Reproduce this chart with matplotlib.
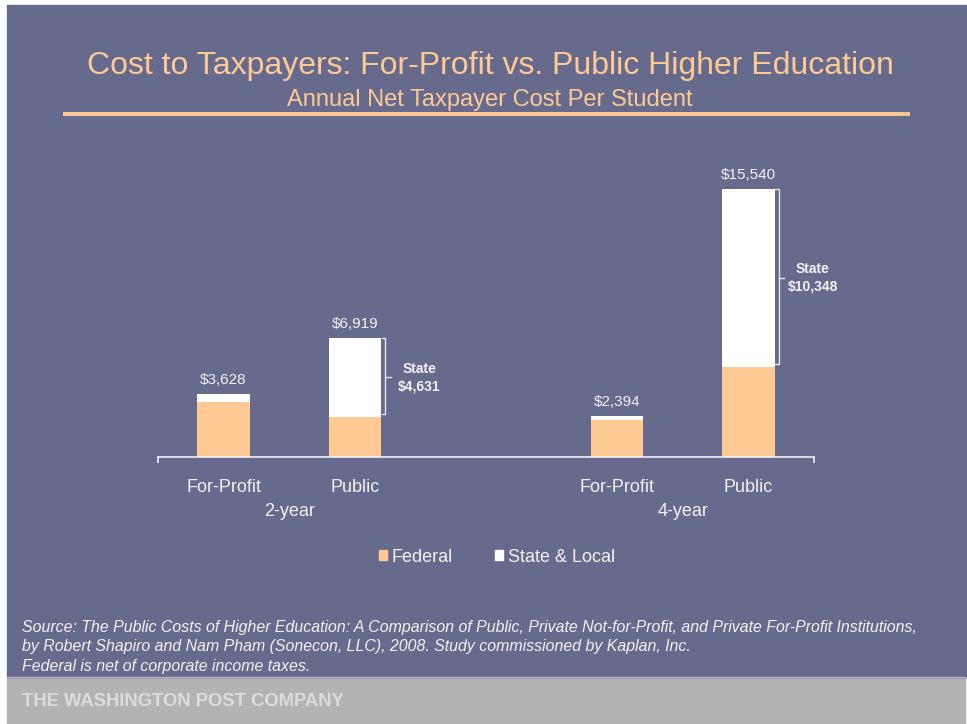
import matplotlib
matplotlib.use("Agg")
import matplotlib.pyplot as plt
from matplotlib.patches import Rectangle, Patch

plt.rcParams["font.family"] = ["Liberation Sans", "DejaVu Sans"]

# data
groups = ["2-year", "4-year"]
categories = ["For-Profit", "Public", "For-Profit", "Public"]
federal = [3200, 2288, 2130, 5192]
state_local = [428, 4631, 264, 10348]
totals = [3628, 6919, 2394, 15540]
positions = [0, 1, 3, 4]

W, H = 967, 724
BG = "#666B8E"
ORANGE = "#FFC993"
LIGHT = "#F2F2F2"


def fx(px):
    return px / W


def fy(py):
    return 1 - py / H


fig = plt.figure(figsize=(W / 100, H / 100), dpi=100)
fig.patch.set_facecolor("white")

# slate panel and grey footer band
fig.patches.append(Rectangle((fx(7), fy(677)), fx(960), (677 - 5) / H,
                             transform=fig.transFigure, color=BG, zorder=-10))
fig.patches.append(Rectangle((fx(7), 0), fx(958), 47 / H,
                             transform=fig.transFigure, color="#B3B3B3", zorder=-10))
fig.add_artist(plt.Line2D([fx(7), fx(965)], [fy(677.5), fy(677.5)],
                          transform=fig.transFigure, color="#9A9CB0", lw=0.8, zorder=-5))

# titles
fig.text(fx(490.5), fy(74), "Cost to Taxpayers: For-Profit vs. Public Higher Education",
         ha="center", va="baseline", fontsize=23, color=ORANGE)
fig.text(fx(490), fy(106), "Annual Net Taxpayer Cost Per Student",
         ha="center", va="baseline", fontsize=17, color=ORANGE)
fig.add_artist(plt.Line2D([fx(63), fx(910)], [fy(114), fy(114)],
                          transform=fig.transFigure, color=ORANGE, lw=2.8,
                          solid_capstyle="butt"))

# chart axes
ax = fig.add_axes([fx(158), fy(457), 656 / W, 293.6 / H])
ax.set_facecolor("none")
ax.set_xlim(-0.5, 4.5)
ax.set_ylim(0, 17000)
for s in ["top", "left", "right"]:
    ax.spines[s].set_visible(False)
ax.spines["bottom"].set_color(LIGHT)
ax.spines["bottom"].set_linewidth(1.2)
ax.set_yticks([])
ax.set_xticks([-0.5, 4.5])
ax.set_xticklabels([])
ax.tick_params(axis="x", direction="out", length=4, width=1.2, color=LIGHT)

ax.bar(positions, federal, width=0.4, color=ORANGE, zorder=2)
ax.bar(positions, state_local, width=0.4, bottom=federal, color="white", zorder=2)

for p, t in zip(positions, totals):
    ax.annotate(f"${t:,}", xy=(p, t), xytext=(0, 7.2), textcoords="offset points",
                ha="center", va="baseline", fontsize=11, color=LIGHT)

for p, c in zip(positions, categories):
    ax.annotate(c, xy=(p, 0), xycoords=("data", "axes fraction"), xytext=(0, -25.2),
                textcoords="offset points", ha="center", va="baseline",
                fontsize=13, color=LIGHT, annotation_clip=False)

for i, g in enumerate(groups):
    gx = (positions[2 * i] + positions[2 * i + 1]) / 2
    ax.annotate(g, xy=(gx, 0), xycoords=("data", "axes fraction"), xytext=(0, -42.5),
                textcoords="offset points", ha="center", va="baseline",
                fontsize=13, color=LIGHT, annotation_clip=False)

# brackets for the state share on public bars
for i in [1, 3]:
    p = positions[i]
    top = totals[i]
    bot = federal[i] + 200
    mid = (top + federal[i]) / 2
    x0 = p + 0.2 + 0.005
    xb = p + 0.2 + 0.03
    xt = xb + 0.045
    ax.plot([x0, xb, xb, x0], [top, top, bot, bot], color="#E6E6E6", lw=1,
            clip_on=False, zorder=3)
    ax.plot([xb, xt], [mid, mid], color="#E6E6E6", lw=1, clip_on=False, zorder=3)
    ax.text(p + 0.49, mid, f"State\n${state_local[i]:,}", ha="center", va="center",
            fontsize=10, fontweight="bold", color=LIGHT, linespacing=1.3)

# legend
handles = [Patch(color=ORANGE, label="Federal"), Patch(color="white", label="State & Local")]
leg = fig.legend(handles=handles, loc="center", bbox_to_anchor=(fx(497), fy(557)),
                 bbox_transform=fig.transFigure, ncol=2, frameon=False, fontsize=13,
                 handlelength=0.45, handleheight=0.45, handletextpad=0.28,
                 columnspacing=2.33, borderpad=0)
for t in leg.get_texts():
    t.set_color(LIGHT)

# source notes
notes = [
    "Source: The Public Costs of Higher Education: A Comparison of Public, Private Not-for-Profit, and Private For-Profit Institutions,",
    "by Robert Shapiro and Nam Pham (Sonecon, LLC), 2008. Study commissioned by Kaplan, Inc.",
    "Federal is net of corporate income taxes.",
]
for k, line in enumerate(notes):
    fig.text(fx(22), fy(632 + 19.5 * k), line, ha="left", va="baseline",
             fontsize=11.4, style="italic", color=LIGHT)

fig.text(fx(22), fy(706), "THE WASHINGTON POST COMPANY", ha="left", va="baseline",
         fontsize=13.25, fontweight="bold", color="#DCDCDC")

fig.savefig("out.png", dpi=100)
